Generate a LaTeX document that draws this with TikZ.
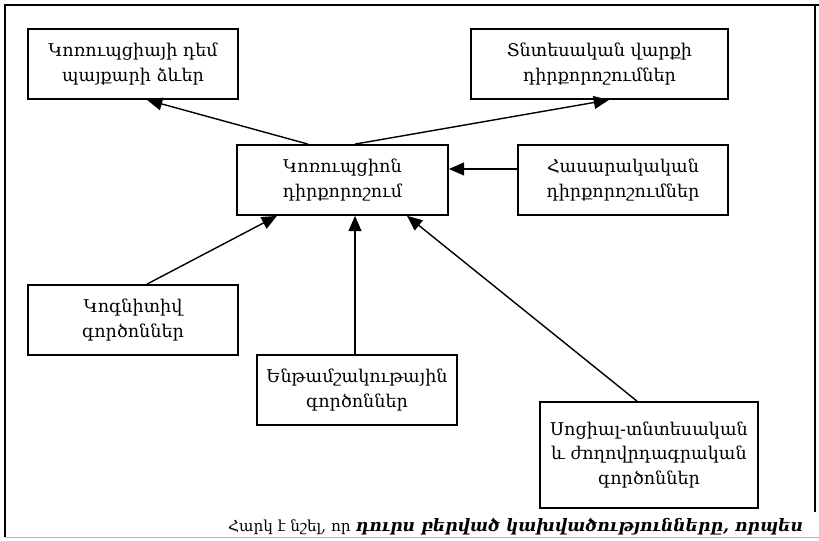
\documentclass[tikz,border=0pt]{standalone}
\usepackage{fontspec}
\setmainfont{DejaVu Serif}
\usetikzlibrary{positioning,calc,arrows.meta}
\tikzset{
  factor/.style={draw=black,line width=1.5pt,align=center,inner sep=0pt,
    minimum width=6.3cm,minimum height=2.1cm,
    font=\fontsize{15}{21}\selectfont},
  link/.style={line width=1.2pt,draw=black,-{Triangle[length=13pt,width=11pt]}},
  frame/.style={line width=1.5pt,draw=black}
}
\begin{document}
\begin{tikzpicture}[x=0.03cm,y=-0.03cm]
  \clip (0,0) rectangle (819,541);
  \useasboundingbox (0,0) rectangle (819,541);
  % outer frame
  \draw[frame] (5,537) -- (5,5) -- (819,5);
  \draw[frame] (815,5) -- (815,512);
  \draw[gray!60,line width=0.8pt] (5,537) -- (819,537);
  % boxes
  \node[factor] (fight) at (133,64) {Կոռուպցիայի դեմ\\պայքարի ձևեր};
  \node[factor,minimum width=7.71cm] (econ) at (599.5,64) {Տնտեսական վարքի\\դիրքորոշումներ};
  \node[factor,minimum width=6.33cm] (corr) at (342.5,180) {Կոռուպցիոն\\դիրքորոշում};
  \node[factor] (social) at (623,180) {Հասարակական\\դիրքորոշումներ};
  \node[factor] (cogn) at (133,320) {Կոգնիտիվ\\գործոններ};
  \node[factor,minimum width=6cm] (subc) at (357,390) {Ենթամշակութային\\գործոններ};
  \node[factor,minimum width=6.54cm,minimum height=3.18cm] (socio) at (649,455)
    {Սոցիալ-տնտեսական\\և ժողովրդագրական\\գործոններ};
  % arrows
  \draw[link] ($(corr.north)+(-34.5,0)$) -- ($(fight.south)+(14,0)$);
  \draw[link] ($(corr.north)+(12.5,0)$) -- ($(econ.south)+(9.5,0)$);
  \draw[link] ($(social.west)+(0,-11)$) -- ($(corr.east)+(0,-11)$);
  \draw[link] ($(cogn.north)+(14,0)$) -- ($(corr.south)+(-65.5,0)$);
  \draw[link] ($(subc.north)+(-2,0)$) -- ($(corr.south)+(12.5,0)$);
  \draw[link] ($(socio.north)+(-12,0)$) -- ($(corr.south)+(64.5,0)$);
  % text below the frame
  \node[anchor=base west,inner sep=0pt,font=\fontsize{13}{18}\selectfont] (note) at (228,531)
    {Հարկ է նշել, որ {\fontsize{14.6}{18}\selectfont\bfseries\itshape դուրս բերված կախվածությունները, որպես}};
\end{tikzpicture}
\end{document}
